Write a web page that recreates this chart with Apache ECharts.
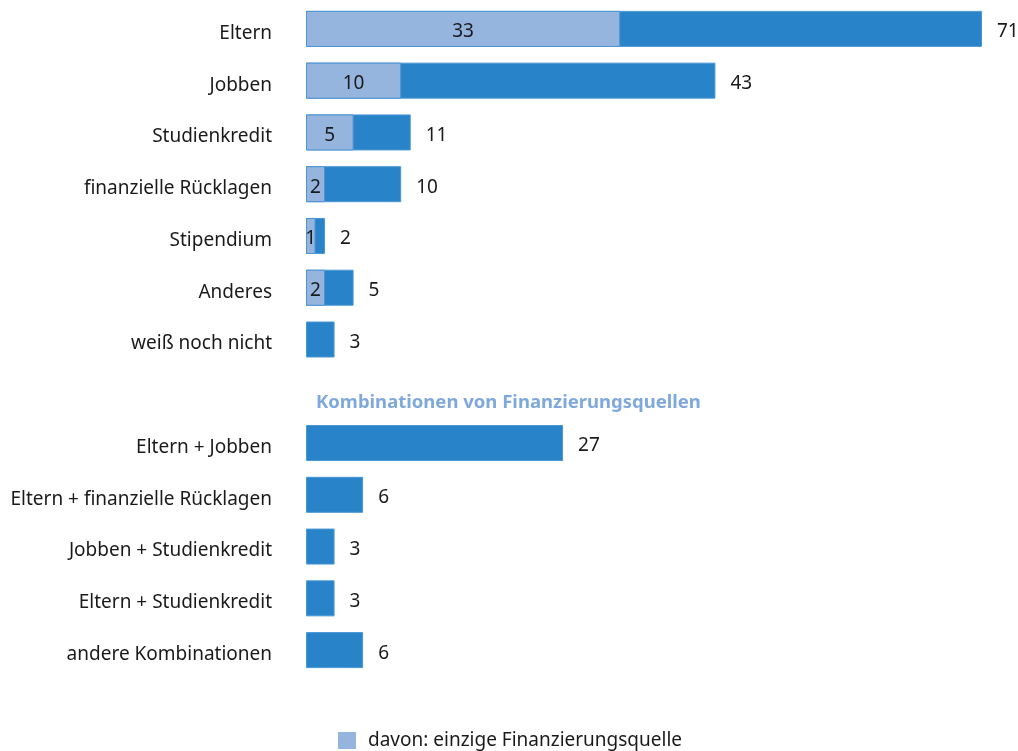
<!DOCTYPE html>
<html>
<head>
<meta charset="utf-8">
<script src="https://cdn.jsdelivr.net/npm/echarts@6/dist/echarts.min.js"></script>
<style>
  html, body { margin: 0; padding: 0; background: #fff; }
  #chart { width: 1018px; height: 751px; }
</style>
</head>
<body>
<div id="chart"></div>
<script>
  // Kategorien (leerer Eintrag = Zwischenüberschrift)
  var categories = ['Eltern', 'Jobben', 'Studienkredit', 'finanzielle Rücklagen', 'Stipendium', 'Anderes', 'weiß noch nicht',
    '', 'Eltern + Jobben', 'Eltern + finanzielle Rücklagen', 'Jobben + Studienkredit', 'Eltern + Studienkredit', 'andere Kombinationen'];
  var totalValues = [71, 43, 11, 10, 2, 5, 3, null, 27, 6, 3, 3, 6];
  var onlyValues = [33, 10, 5, 2, 1, 2, null, null, null, null, null, null, null];
  var sectionTitle = 'Kombinationen von Finanzierungsquellen';
  var sectionIndex = 7;
  var legendName = 'davon: einzige Finanzierungsquelle';

  var font = 'Noto Sans';

  var totalData = totalValues.map(function(v, i) {
    if (i === sectionIndex) {
      // Überschrift als Label eines leeren Balkens
      return {
        value: 0,
        itemStyle: { borderWidth: 0, color: 'rgba(0,0,0,0)' },
        label: {
          show: true,
          position: 'right',
          distance: 10,
          offset: [0, 11],
          formatter: sectionTitle,
          color: '#7fa9dc',
          fontWeight: 'bold',
          fontSize: 18.5
        }
      };
    }
    return v;
  });

  var myChart = echarts.init(document.getElementById('chart'));
  var option = {
    animation: false,
    textStyle: { fontFamily: font },
    grid: { left: 306, right: 36, top: 3, bottom: 75, containLabel: false },
    legend: {
      data: [legendName],
      left: 333,
      top: 726,
      itemWidth: 18,
      itemHeight: 17,
      icon: 'rect',
      itemStyle: { borderWidth: 0 },
      textStyle: { fontSize: 19, color: '#1a1a1a', fontFamily: font, padding: [0, 0, 0, 7] }
    },
    xAxis: {
      type: 'value',
      min: 0,
      max: 71,
      show: false
    },
    yAxis: {
      type: 'category',
      data: categories,
      inverse: true,
      axisLine: { show: false },
      axisTick: { show: false },
      axisLabel: {
        margin: 34,
        formatter: '{v|{value}}',
        rich: {
          v: { fontSize: 19, color: '#1a1a1a', fontFamily: font, padding: [9, 0, 0, 0] }
        }
      }
    },
    series: [
      {
        name: 'gesamt',
        type: 'bar',
        barWidth: 36,
        itemStyle: { color: '#2883c8', borderColor: '#4a97d6', borderWidth: 1 },
        label: {
          show: true,
          position: 'right',
          distance: 15,
          offset: [0, 3],
          fontSize: 19,
          color: '#1a1a1a'
        },
        data: totalData
      },
      {
        name: legendName,
        type: 'bar',
        barWidth: 36,
        barGap: '-100%',
        itemStyle: { color: '#95b5de', borderColor: '#4f93d3', borderWidth: 1 },
        label: {
          show: true,
          position: 'inside',
          offset: [0, 3],
          fontSize: 19,
          color: '#1a1a1a'
        },
        data: onlyValues
      }
    ]
  };
  myChart.setOption(option);
</script>
</body>
</html>
